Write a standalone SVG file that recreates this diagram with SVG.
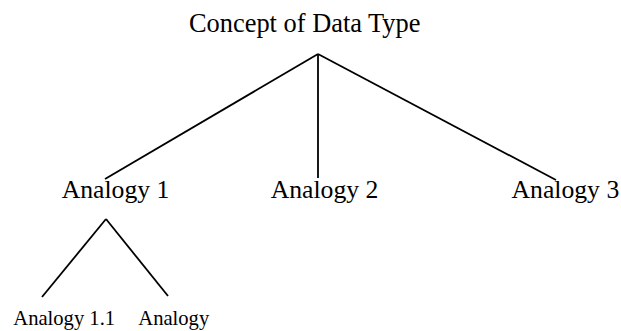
<svg xmlns="http://www.w3.org/2000/svg" width="621" height="331" viewBox="0 0 621 331">
<style>
text{font-family:"Liberation Serif","Times New Roman",serif;fill:#000}
.t{font-size:26.4px}
.m{font-size:25.7px}
.s{font-size:20.6px}
.c line{stroke:#000;stroke-width:1.8;stroke-linecap:butt}
</style>
<rect width="621" height="331" fill="#fff"/>
<g class="c" id="connectors">
<line x1="318" y1="54" x2="105" y2="179"/>
<line x1="318" y1="54" x2="318" y2="178"/>
<line x1="318" y1="54" x2="556" y2="180"/>
<line x1="106" y1="219" x2="42" y2="297"/>
<line x1="106" y1="219" x2="168" y2="296"/>
</g>
<g id="root"><text class="t" x="189" y="32">Concept of Data Type</text></g>
<g id="a1"><text class="m" x="61.7" y="198">Analogy 1</text></g>
<g id="a2"><text class="m" x="270.7" y="198">Analogy 2</text></g>
<g id="a3"><text class="m" x="511.5" y="198">Analogy 3</text></g>
<g id="a11"><text class="s" x="13.3" y="325">Analogy 1.1</text></g>
<g id="a12"><text class="s" x="138.3" y="325">Analogy</text></g>
</svg>
